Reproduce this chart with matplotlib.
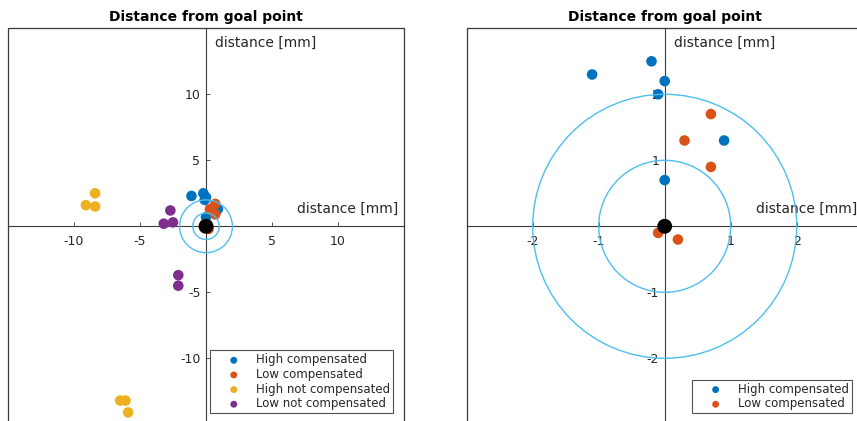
import matplotlib
matplotlib.use("Agg")
import matplotlib.pyplot as plt
from matplotlib.patches import Circle, Rectangle

plt.rcParams['font.family'] = ['DejaVu Sans']
plt.rcParams['axes.unicode_minus'] = False

# Offsets from the goal point [mm]
high_comp_x = [-0.20, -1.10, 0.00, -0.10, 0.90, 0.00]
high_comp_y = [2.50, 2.30, 2.20, 2.00, 1.30, 0.70]
low_comp_x = [0.70, 0.30, 0.70, -0.10, 0.20]
low_comp_y = [1.70, 1.30, 0.90, -0.10, -0.20]
high_nc_x = [-8.4, -9.1, -8.4, -6.5, -6.1, -5.9]
high_nc_y = [2.5, 1.6, 1.5, -13.2, -13.2, -14.1]
low_nc_x = [-2.7, -3.2, -2.5, -2.1, -2.1]
low_nc_y = [1.2, 0.2, 0.3, -3.7, -4.5]

ring_radii = [1, 2]
left_ticks = [-10, -5, 5, 10]
right_ticks = [-2, -1, 1, 2]
left_lim = 15
right_lim = 3

series_left = [
    (high_comp_x, high_comp_y, '#0072BD', 'High compensated'),
    (low_comp_x, low_comp_y, '#D95319', 'Low compensated'),
    (high_nc_x, high_nc_y, '#EDB120', 'High not compensated'),
    (low_nc_x, low_nc_y, '#7E2F8E', 'Low not compensated'),
]
series_right = series_left[:2]

W, H = 857, 421
fig = plt.figure(figsize=(W / 100, H / 100), dpi=100)

axis_col = '#3a3a3a'
text_col = '#262626'


def setup(ax, lim, ticks, series):
    ax.set_xlim(-lim, lim)
    ax.set_ylim(-lim, lim)
    for s in ['top', 'right']:
        ax.spines[s].set_visible(False)
    for s in ['left', 'bottom']:
        ax.spines[s].set_position(('data', 0))
        ax.spines[s].set_color(axis_col)
        ax.spines[s].set_linewidth(0.8)
    ax.add_patch(Rectangle((0, 0), 1, 1, transform=ax.transAxes, fill=False,
                           edgecolor=axis_col, linewidth=0.9, clip_on=False,
                           zorder=5))
    ax.set_xticks(ticks)
    ax.set_yticks(ticks)
    ax.set_xticklabels([str(t) for t in ticks])
    ax.set_yticklabels([str(t) for t in ticks])
    ax.tick_params(axis='both', direction='in', length=3, width=0.6,
                   colors=axis_col, labelcolor=text_col, labelsize=9)
    ax.tick_params(axis='x', pad=6)
    ax.tick_params(axis='y', pad=4)

    for x, y, c, lab in series:
        ax.scatter(x, y, s=58, color=c, edgecolors='none', label=lab, zorder=3)
    for r in ring_radii:
        ax.add_patch(Circle((0, 0), r, fill=False, edgecolor='#4DBEEE',
                            linewidth=1.0, zorder=4))
    ax.scatter([0], [0], s=115, color='black', edgecolors='none', zorder=6)

    ax.set_title('Distance from goal point', fontsize=10, fontweight='bold',
                 pad=5, color='black')
    # horizontal-axis label sits just above the axis at its right end
    ax.annotate('distance [mm]', xy=(0.985, 0.5), xycoords='axes fraction',
                xytext=(0, 12.5), textcoords='offset points', ha='right',
                va='center', fontsize=10, color=text_col,
                annotation_clip=False)
    # vertical-axis label sits beside the axis at its top end
    ax.text(0.523, 0.963, 'distance [mm]', transform=ax.transAxes, ha='left',
            va='center', fontsize=10, color=text_col)


ax_l = fig.add_axes([8 / W, (H - 424.3) / H, 396 / W, 396 / H])
ax_r = fig.add_axes([466.7 / W, (H - 424.3) / H, 396 / W, 396 / H])

setup(ax_l, left_lim, left_ticks, series_left)
setup(ax_r, right_lim, right_ticks, series_right)


def add_legend(ax, right_px, bottom_px):
    leg = ax.legend(loc='lower right',
                    bbox_to_anchor=(right_px / W, 1 - bottom_px / H),
                    bbox_transform=fig.transFigure, fontsize=8.5,
                    frameon=True, fancybox=False, borderpad=0.25,
                    borderaxespad=0.0,
                    handlelength=3.45, handletextpad=0.15, labelspacing=0.14,
                    markerscale=0.65, scatterpoints=1)
    fr = leg.get_frame()
    fr.set_edgecolor(text_col)
    fr.set_linewidth(0.8)
    leg.set_zorder(10)
    for t in leg.get_texts():
        t.set_color(text_col)


add_legend(ax_l, 393, 413.3)
add_legend(ax_r, 851.7, 413.3)

fig.savefig('out.png', dpi=100)
